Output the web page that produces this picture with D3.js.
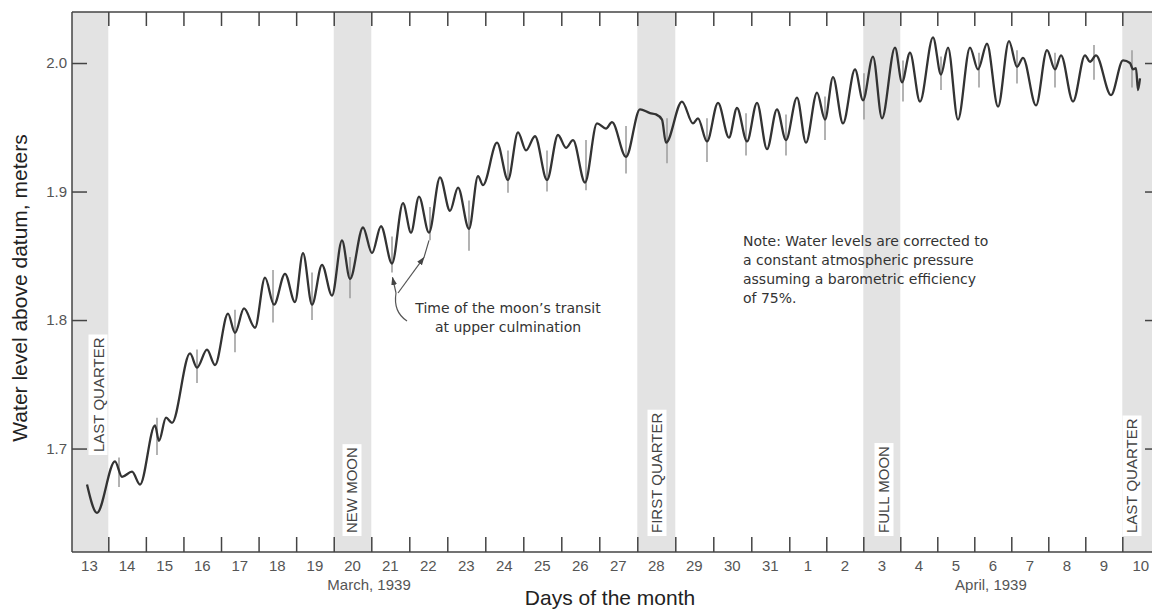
<!DOCTYPE html>
<html><head><meta charset="utf-8">
<script src="https://cdn.jsdelivr.net/npm/d3@7"></script>
<style>body{margin:0;background:#fff}svg{display:block}</style>
</head><body>
<svg id="c" width="1152" height="610"></svg>
<script>
// time in days since 00:00 on 13 March 1939; level in meters above datum
const tideTime = [0.437,0.701,1.178,1.365,1.631,1.844,2.243,2.349,2.536,2.695,
3.175,3.361,3.627,3.840,4.186,4.372,4.612,4.905,5.171,5.410,
5.703,5.969,6.182,6.422,6.688,6.954,7.220,7.433,7.779,8.018,
8.255,8.545,8.834,9.045,9.255,9.518,9.808,10.071,10.282,10.571,
10.808,10.939,11.308,11.597,11.861,12.071,12.308,12.624,12.913,13.124,
13.308,13.624,13.939,14.176,14.334,14.703,15.071,15.334,15.492,15.650,
15.755,16.176,16.466,16.597,16.834,17.124,17.413,17.624,17.887,18.150,
18.413,18.676,18.913,19.208,19.451,19.749,19.965,20.181,20.451,20.776,
20.992,21.262,21.505,21.857,22.046,22.262,22.532,22.884,23.100,23.289,
23.559,23.884,24.100,24.343,24.641,24.938,25.154,25.316,25.668,25.965,
26.181,26.343,26.668,26.992,27.127,27.289,27.695,28.019,28.207,28.288,
28.369,28.423,28.477];
const tideLevel = [1.672,1.650,1.690,1.678,1.682,1.672,1.718,1.706,1.724,1.720,
1.774,1.763,1.777,1.765,1.805,1.790,1.809,1.794,1.833,1.812,
1.836,1.814,1.852,1.812,1.843,1.819,1.862,1.832,1.872,1.852,
1.873,1.844,1.891,1.868,1.896,1.868,1.911,1.885,1.903,1.871,
1.912,1.905,1.938,1.909,1.946,1.932,1.943,1.909,1.944,1.934,
1.940,1.907,1.953,1.949,1.954,1.927,1.964,1.961,1.960,1.956,
1.938,1.970,1.953,1.957,1.939,1.969,1.942,1.965,1.939,1.969,
1.933,1.964,1.940,1.973,1.938,1.977,1.956,1.989,1.953,1.995,
1.971,2.005,1.957,2.012,1.985,2.008,1.970,2.020,1.991,2.012,
1.956,2.012,1.995,2.015,1.966,2.017,1.997,2.004,1.967,2.010,
1.995,2.006,1.970,2.006,2.001,2.006,1.975,2.002,2.000,1.995,
1.996,1.979,1.988];
// moon's transit at upper culmination
const transitTime = [1.285,2.296,3.361,4.372,5.384,6.422,7.433,8.545,9.545,10.571,
11.597,12.624,13.650,14.703,15.782,16.834,17.861,18.913,19.965,21.019,
22.073,23.100,24.127,25.154,26.181,27.235,28.261];
const transitTop = [1.693,1.724,1.777,1.808,1.839,1.837,1.849,1.865,1.888,1.893,
1.932,1.932,1.940,1.951,1.957,1.957,1.961,1.960,1.974,1.992,
2.002,2.005,2.008,2.010,2.008,2.014,2.010];
const transitBottom = [1.670,1.695,1.751,1.775,1.798,1.800,1.817,1.837,1.862,1.854,
1.899,1.900,1.901,1.914,1.922,1.923,1.928,1.928,1.940,1.956,
1.970,1.979,1.981,1.984,1.981,1.987,1.981];
const phaseNames = ["LAST QUARTER","NEW MOON","FIRST QUARTER","FULL MOON","LAST QUARTER"];
const phaseStart = [0,7,15,21,28];
const phaseLabelTime = [0.728,7.486,15.518,21.559,28.261];
const dayLabels = ["13","14","15","16","17","18","19","20","21","22","23","24","25","26","27","28","29","30","31","1","2","3","4","5","6","7","8","9","10"];
const levelTicks = [1.7,1.8,1.9,2.0];
const monthLabels = ["March, 1939","April, 1939"];
const monthLabelTime = [7.94,24.45];
const noteLines = ["Note: Water levels are corrected to","a constant atmospheric pressure","assuming a barometric efficiency","of 75%."];
const calloutLines = ["Time of the moon\u2019s transit","at upper culmination"];

const svg = d3.select("#c");
const L=72, R=1152, T=12, B=552;
const x = d3.scaleLinear().domain([0.04,1,8,19,28,28.8]).range([72,108.3,371.3,789.3,1122.3,1152]);
const y = d3.scaleLinear().domain([1.6195,2.0397]).range([B,T]);
const ink="#444", lab="#555";
const sans = "Liberation Sans, Arial, sans-serif";

svg.append("defs").append("clipPath").attr("id","pc").append("rect")
  .attr("x",L).attr("y",T).attr("width",R-L).attr("height",B-T);
const mk = svg.select("defs").append("marker").attr("id","ah").attr("viewBox","0 0 10 10")
  .attr("refX",9).attr("refY",5).attr("markerWidth",7).attr("markerHeight",7).attr("orient","auto-start-reverse");
mk.append("path").attr("d","M0,1.5 L10,5 L0,8.5 Z").attr("fill","#444");

const plot = svg.append("g").attr("clip-path","url(#pc)");
// phase bands
plot.selectAll("rect.band").data(phaseStart).join("rect").attr("class","band")
  .attr("x",d=>x(d)).attr("y",T).attr("width",d=>x(Math.min(d+1,28.8))-x(d)+(d===28?30:0)).attr("height",B-T)
  .attr("fill","#e3e3e3");

// transit marks
plot.selectAll("line.tr").data(transitTime).join("line").attr("class","tr")
  .attr("x1",d=>x(d)).attr("x2",d=>x(d))
  .attr("y1",(d,i)=>y(transitTop[i])).attr("y2",(d,i)=>y(transitBottom[i]))
  .attr("stroke","#a0a0a0").attr("stroke-width",1.6);

// tide curve
const pts = tideTime.map((t,i)=>({t,v:tideLevel[i]}));
plot.append("path").datum(pts)
  .attr("d",d3.line().x(d=>x(d.t)).y(d=>y(d.v)).curve(d3.curveMonotoneX))
  .attr("fill","none").attr("stroke","#333").attr("stroke-width",2.3).attr("stroke-linejoin","round");

// phase labels
phaseNames.forEach((name,i)=>{
  const cx = x(phaseLabelTime[i]);
  const base = i===0 ? 452 : 533;
  const g = svg.append("g").attr("transform",`translate(${cx},${base}) rotate(-90)`);
  const t = g.append("text").attr("x",0).attr("y",5.5).text(name)
    .attr("font-family",sans).attr("font-size",15).attr("fill","#444");
  const w = t.node().getComputedTextLength();
  g.insert("rect","text").attr("x",-3).attr("y",-9.5).attr("width",w+6).attr("height",19).attr("fill","#fff");
});

// axes lines
const axG = svg.append("g").attr("stroke",ink).attr("stroke-width",1.5);
axG.append("line").attr("x1",L).attr("x2",R).attr("y1",T).attr("y2",T);
axG.append("line").attr("x1",L).attr("x2",R).attr("y1",B).attr("y2",B);
axG.append("line").attr("x1",L).attr("x2",L).attr("y1",T).attr("y2",B);

const bounds = d3.range(1,29);
const styleAxis = g=>{g.select(".domain").remove(); g.selectAll(".tick line").attr("stroke",ink).attr("stroke-width",1.5);};
svg.append("g").attr("transform",`translate(0,${B})`)
  .call(d3.axisBottom(x).tickValues(bounds).tickSize(-15).tickSizeOuter(0).tickFormat(""))
  .call(styleAxis);
svg.append("g").attr("transform",`translate(0,${T})`)
  .call(d3.axisTop(x).tickValues(bounds).tickSize(-14).tickSizeOuter(0).tickFormat(""))
  .call(styleAxis);
svg.append("g").attr("transform",`translate(${L},0)`)
  .call(d3.axisLeft(y).tickValues(levelTicks).tickSize(-15).tickSizeOuter(0).tickPadding(5).tickFormat(d3.format(".1f")))
  .call(styleAxis)
  .call(g=>g.selectAll("text").attr("font-family",sans).attr("font-size",15).attr("fill",lab));
svg.append("g").attr("transform",`translate(1160,0)`)
  .call(d3.axisRight(y).tickValues(levelTicks).tickSize(-15).tickSizeOuter(0).tickFormat(""))
  .call(styleAxis);

// day labels
svg.append("g").selectAll("text").data(dayLabels).join("text")
  .attr("x",(d,i)=>x(i+0.5)).attr("y",571).attr("text-anchor","middle")
  .attr("font-family",sans).attr("font-size",15).attr("fill",lab).text(d=>d);
svg.append("g").selectAll("text").data(monthLabels).join("text")
  .attr("x",(d,i)=>x(monthLabelTime[i])).attr("y",590).attr("text-anchor","middle")
  .attr("font-family",sans).attr("font-size",15).attr("fill",lab).text(d=>d);

// titles
svg.append("text").attr("x",610).attr("y",605).attr("text-anchor","middle")
  .attr("font-family",sans).attr("font-size",21).attr("fill","#222").text("Days of the month");
svg.append("text").attr("transform","translate(27,288) rotate(-90)").attr("text-anchor","middle")
  .attr("font-family",sans).attr("font-size",21).attr("fill","#222").text("Water level above datum, meters");

// note
svg.append("g").selectAll("text").data(noteLines).join("text")
  .attr("x",743).attr("y",(d,i)=>246+i*19)
  .attr("font-family","DejaVu Sans, sans-serif").attr("font-size",14).attr("fill","#333").text(d=>d);

// callout
svg.append("g").selectAll("text").data(calloutLines).join("text")
  .attr("x",508).attr("y",(d,i)=>313+i*19).attr("text-anchor","middle")
  .attr("font-family","DejaVu Sans, sans-serif").attr("font-size",14).attr("fill","#333").text(d=>d);
const ax0 = x(transitTime[7]), ax1 = x(transitTime[8]);
const an = svg.append("g").attr("fill","none").attr("stroke","#555").attr("stroke-width",1.2);
an.append("path").attr("d",`M${ax0+4},293 Q${ax0+1},312 ${ax0+15},321`);
an.append("path").attr("d",`M${ax0+4},293 L${ax0+0.5},${y(transitBottom[7])+5}`).attr("marker-end","url(#ah)");
an.append("path").attr("d",`M${ax0+6},293 L${ax1-6},${y(transitBottom[8])+17}`).attr("marker-end","url(#ah)");
an.append("path").attr("d",`M${ax1-6},${y(transitBottom[8])+17} L${ax1-1},${y(transitBottom[8])}`);
</script>
</body></html>
